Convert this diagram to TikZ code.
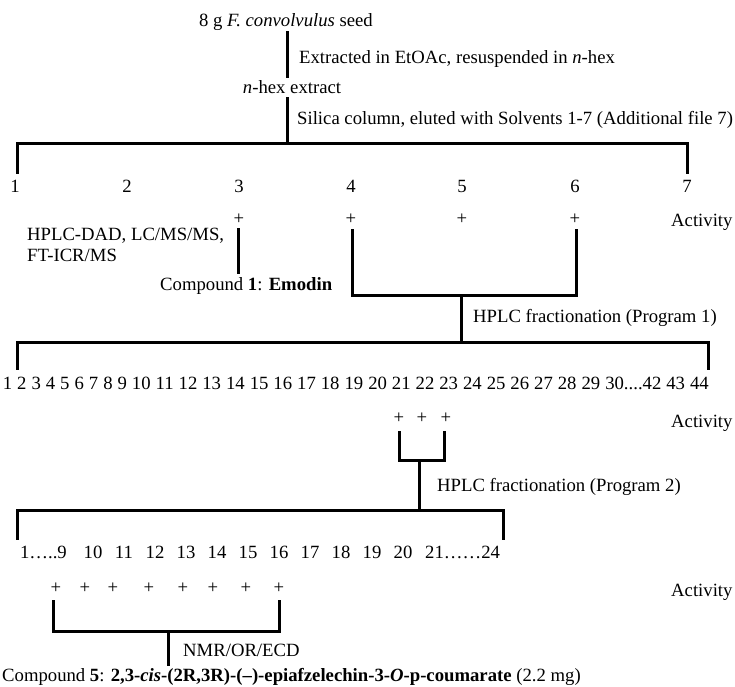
\documentclass[tikz,border=0pt]{standalone}
\usepackage{fontspec}
\setmainfont{Liberation Serif}
\begin{document}
\begin{tikzpicture}[x=1pt,y=-1pt,
  txt/.style={inner sep=0pt,font=\fontsize{18.7}{21}\selectfont},
  lft/.style={txt,anchor=base west},
  ctr/.style={txt,anchor=base},
  rgt/.style={txt,anchor=base east},
  ln/.style={line width=3pt,line cap=rect,line join=miter}]
\useasboundingbox (0,0) rectangle (735,686);
% texts
\node[ctr] (seed) at (286,26) {8 g \textit{F. convolvulus} seed};
\node[lft] (ext) at (299,63) {Extracted in EtOAc, resuspended in \textit{n}-hex};
\node[ctr] (nhex) at (292,93) {\textit{n}-hex extract};
\node[lft] (sil) at (297,124) {Silica column, eluted with Solvents 1-7 (Additional file 7)};
\foreach \i/\x in {1/15,2/127,3/239,4/351,5/462,6/575,7/687}
  \node[ctr] (f\i) at (\x,192) {\i};
\foreach \i/\x in {3/239,4/351,5/462,6/575}
  \node[ctr] (p\i) at (\x,224) {+};
\node[lft] (act1) at (671,226) {Activity};
\node[lft,align=left,anchor=north west] (hplcdad) at (27,228) {HPLC-DAD, LC/MS/MS,\\FT-ICR/MS};
\node[lft] (cmp1) at (160,290) {Compound \textbf{1}: \textbf{Emodin}};
\node[lft] (hp1) at (473,322) {HPLC fractionation (Program 1)};
\node[rgt] (row2) at (709,389) {\spaceskip=5pt 1 2 3 4 5 6 7 8 9 10 11 12 13 14 15 16 17 18 19 20 21 22 23 24 25 26 27 28 29 30....42 43 44};
\foreach \i/\x in {21/399,22/422,23/446}
  \node[ctr] (q\i) at (\x,423) {+};
\node[lft] (act2) at (671,427) {Activity};
\node[lft] (hp2) at (437,491) {HPLC fractionation (Program 2)};
\node[rgt] (s9) at (67,558) {1\ldots..9};
\foreach \i/\x in {10/93,11/124,12/155,13/186,14/217,15/248,16/279,17/310,18/341,19/372,20/403}
  \node[ctr] (s\i) at (\x,558) {\i};
\node[lft] (s21) at (425,558) {21\ldots\ldots24};
\foreach \j/\x in {1/56,2/85,3/113,4/149,5/183,6/213,7/246,8/279}
  \node[ctr] (r\j) at (\x,593) {+};
\node[lft] (act3) at (671,596) {Activity};
\node[lft] (nmr) at (183,656) {NMR/OR/ECD};
\node[lft] (cmp5) at (2,681) {Compound \textbf{5}: \textbf{2,3-\textit{cis}-(2R,3R)-(--)-epiafzelechin-3-\textit{O}-p-coumarate} (2.2 mg)};
% coordinates
\coordinate (a1) at (287,32); \coordinate (a2) at (287,76);
\coordinate (b1) at (287,98); \coordinate (b2) at (287,143);
\coordinate (bl) at (17,143); \coordinate (br) at (687,143);
\coordinate (blt) at (17,172); \coordinate (brt) at (687,172);
\coordinate (c1) at (238,229); \coordinate (c2) at (238,272);
\coordinate (d1) at (352,230); \coordinate (d2) at (352,295);
\coordinate (d3) at (576,295); \coordinate (d4) at (576,230);
\coordinate (e1) at (461,295); \coordinate (e2) at (461,342);
\coordinate (fl) at (17,342); \coordinate (fr) at (708,342);
\coordinate (flt) at (17,368); \coordinate (frt) at (708,368);
\coordinate (g1) at (399,432); \coordinate (g2) at (399,460);
\coordinate (g3) at (444,460); \coordinate (g4) at (444,432);
\coordinate (h1) at (419,460); \coordinate (h2) at (419,510);
\coordinate (il) at (17,510); \coordinate (ir) at (503,510);
\coordinate (ilt) at (17,538); \coordinate (irt) at (503,538);
\coordinate (k1) at (53,601); \coordinate (k2) at (53,631);
\coordinate (k3) at (279,631); \coordinate (k4) at (279,601);
\coordinate (m1) at (168,631); \coordinate (m2) at (168,664);
% connectors
\draw[ln] (a1) -- (a2);
\draw[ln] (b1) -- (b2);
\draw[ln] (blt) -- (bl) -- (br) -- (brt);
\draw[ln] (c1) -- (c2);
\draw[ln] (d1) -- (d2) -- (d3) -- (d4);
\draw[ln] (e1) -- (e2);
\draw[ln] (flt) -- (fl) -- (fr) -- (frt);
\draw[ln] (g1) -- (g2) -- (g3) -- (g4);
\draw[ln] (h1) -- (h2);
\draw[ln] (ilt) -- (il) -- (ir) -- (irt);
\draw[ln] (k1) -- (k2) -- (k3) -- (k4);
\draw[ln] (m1) -- (m2);
\end{tikzpicture}
\end{document}
